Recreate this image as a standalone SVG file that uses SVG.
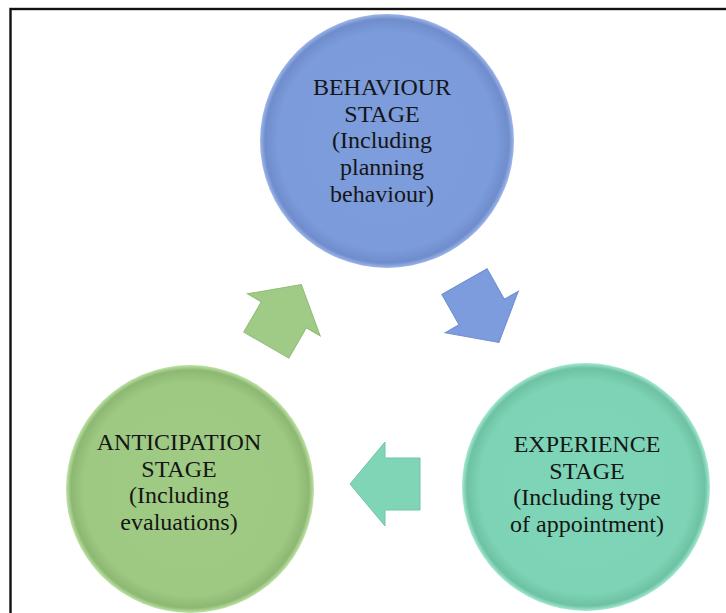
<svg xmlns="http://www.w3.org/2000/svg" width="726" height="613" viewBox="0 0 726 613">
<style>
.lbl{font-family:"Liberation Serif","Times New Roman",serif;font-size:24px;fill:#151515;text-anchor:middle}
.arr{stroke-width:1;stroke-linejoin:miter}
</style>
<defs>
<radialGradient id="gb" cx="0.5" cy="0.5" r="0.5">
<stop offset="0" stop-color="#7e9ddd"/><stop offset="0.86" stop-color="#7c9bdb"/><stop offset="0.96" stop-color="#6f8dcc"/><stop offset="1" stop-color="#9fb7ea"/>
</radialGradient>
<radialGradient id="gt" cx="0.5" cy="0.5" r="0.5">
<stop offset="0" stop-color="#7fd5b7"/><stop offset="0.86" stop-color="#7dd3b5"/><stop offset="0.96" stop-color="#6ec2a4"/><stop offset="1" stop-color="#a5ead2"/>
</radialGradient>
<radialGradient id="gg" cx="0.5" cy="0.5" r="0.5">
<stop offset="0" stop-color="#a0cb84"/><stop offset="0.86" stop-color="#9dc982"/><stop offset="0.96" stop-color="#8db873"/><stop offset="1" stop-color="#c0e4a6"/>
</radialGradient>
<polygon id="arrow" points="-35,-26 0,-26 0,-42 35,0 0,42 0,26 -35,26"/>
</defs>
<rect width="726" height="613" fill="#ffffff"/>
<rect x="10.5" y="9" width="730" height="620" fill="none" stroke="#111111" stroke-width="2.4"/>
<g id="connectors">
<use href="#arrow" transform="translate(283.8,314.8) rotate(-60)" fill="#9fcb86" stroke="#8fbb77" class="arr"/>
<use href="#arrow" transform="translate(481.7,312) rotate(60.5)" fill="#7d9cde" stroke="#6f8ed0" class="arr"/>
<use href="#arrow" transform="translate(385,484) rotate(180)" fill="#7fd5b6" stroke="#70c6a7" class="arr"/>
</g>
<g id="behaviour">
<circle cx="387" cy="141" r="127" fill="url(#gb)"/>
<text class="lbl" x="382" y="95">BEHAVIOUR</text>
<text class="lbl" x="382" y="121.7">STAGE</text>
<text class="lbl" x="382" y="148.4">(Including</text>
<text class="lbl" x="382" y="175.1">planning</text>
<text class="lbl" x="382" y="201.8">behaviour)</text>
</g>
<g id="experience">
<circle cx="586" cy="487" r="124" fill="url(#gt)"/>
<text class="lbl" x="587" y="452">EXPERIENCE</text>
<text class="lbl" x="587" y="478.7">STAGE</text>
<text class="lbl" x="587" y="505.4">(Including type</text>
<text class="lbl" x="587" y="532.1">of appointment)</text>
</g>
<g id="anticipation">
<circle cx="190" cy="489" r="124" fill="url(#gg)"/>
<text class="lbl" x="179" y="450">ANTICIPATION</text>
<text class="lbl" x="179" y="476.7">STAGE</text>
<text class="lbl" x="179" y="503.4">(Including</text>
<text class="lbl" x="179" y="530.1">evaluations)</text>
</g>
</svg>
